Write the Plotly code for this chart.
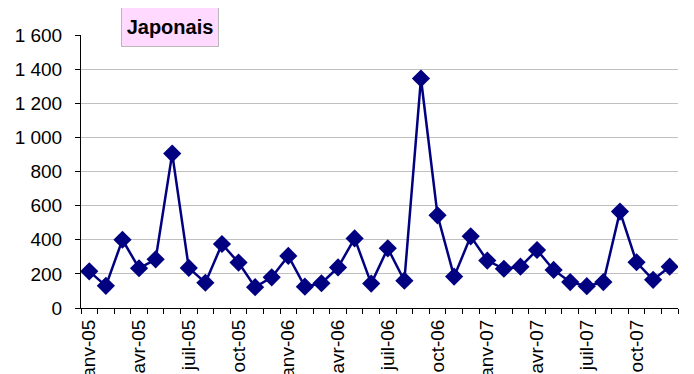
import plotly.graph_objects as go

months = ["janv", "févr", "mars", "avr", "mai", "juin", "juil", "août", "sept", "oct", "nov", "déc"]
years = ["05", "06", "07"]
categories = [f"{m}-{y}" for y in years for m in months]
values = [215, 130, 400, 233, 285, 905, 235, 148, 375, 266, 122, 180,
          305, 125, 145, 238, 408, 143, 350, 160, 1345, 543, 184, 420,
          278, 230, 242, 340, 223, 152, 128, 152, 565, 268, 165, 242]
tick_labels = [c if i % 3 == 0 else "" for i, c in enumerate(categories)]
y_ticks = [0, 200, 400, 600, 800, 1000, 1200, 1400, 1600]

# page body adds an 8px offset; plot area should sit at x 81..678, y 35..308 on screen
L, T, R, B = 73, 27, 24, 74
plot_w = 694 - L - R
plot_h = 374 - T - B

fig = go.Figure()
fig.add_trace(go.Scatter(
    x=categories, y=values, mode="lines+markers",
    line=dict(color="#000080", width=2.5),
    marker=dict(symbol="diamond", size=14, color="#000080"),
    showlegend=False,
))

fig.update_layout(
    width=694, height=374,
    margin=dict(l=L, r=R, t=T, b=B),
    paper_bgcolor="white", plot_bgcolor="white",
    separators=", ",
    font=dict(family="Liberation Sans, Arial", color="black"),
    xaxis=dict(
        type="category", tickmode="array", tickvals=categories, ticktext=tick_labels,
        tickson="boundaries", ticks="outside", ticklen=5, tickcolor="black",
        tickangle=-90, tickfont=dict(size=19), automargin=False,
        ticklabelstandoff=3,
        showline=True, linecolor="black", linewidth=1, showgrid=False,
        range=[-0.5, 35.5],
    ),
    yaxis=dict(
        range=[0, 1600], tickvals=y_ticks, tickformat=",d",
        ticks="outside", ticklen=5, tickcolor="black",
        tickfont=dict(size=19), automargin=False, ticklabelstandoff=9,
        showline=True, linecolor="black", linewidth=1,
        showgrid=True, gridcolor="#c0c0c0", gridwidth=1, zeroline=False,
    ),
    annotations=[dict(
        text="<b>Japonais</b>", xref="paper", yref="paper",
        x=(162 - L) / plot_w, y=(T + plot_h - 19) / plot_h,
        xanchor="center", yanchor="middle", showarrow=False,
        width=94, height=36, align="center", valign="middle",
        font=dict(size=20, color="black"),
        bgcolor="#ffd9ff", bordercolor="#b8b8b8", borderwidth=1, borderpad=1,
    )],
)

fig.write_html("out.html")
